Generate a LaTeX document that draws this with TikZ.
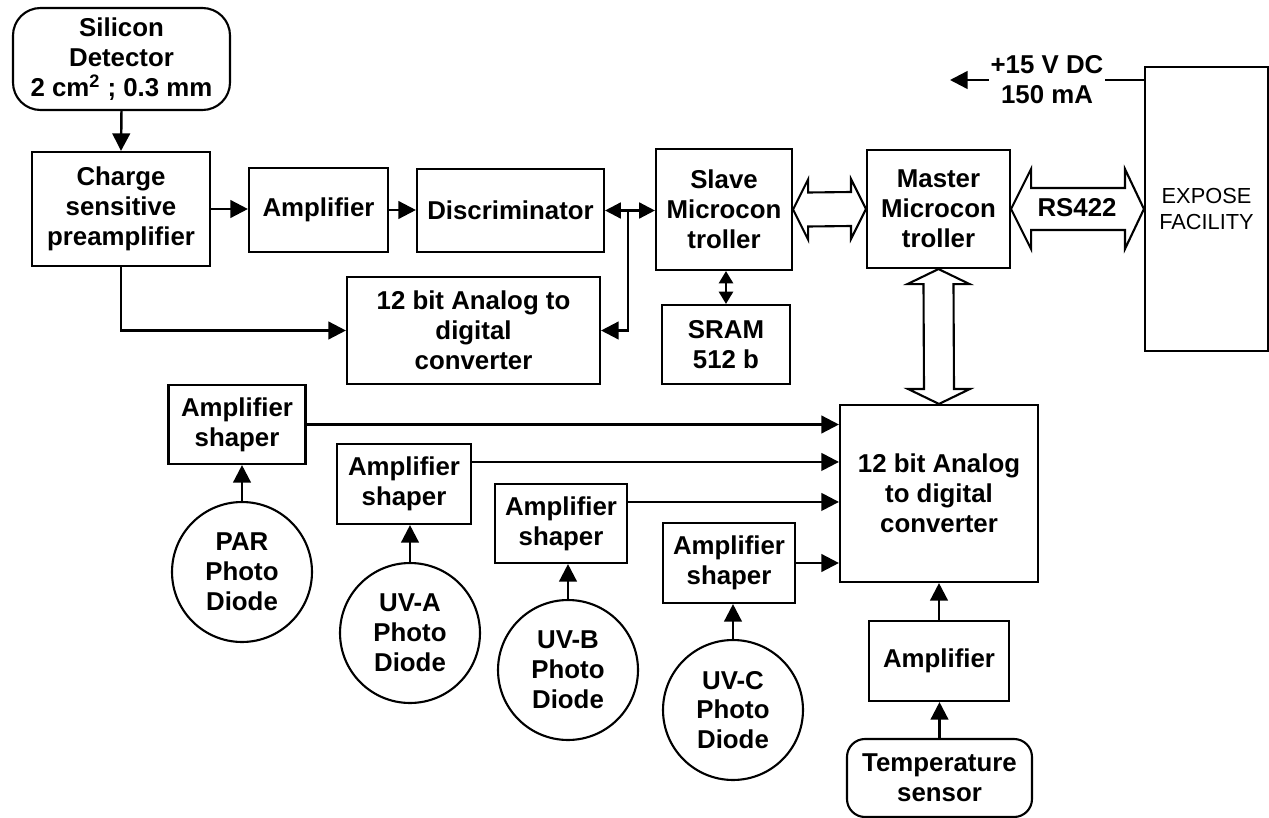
\documentclass[tikz,border=0pt]{standalone}
\usepackage{fontspec}
\setmainfont{Liberation Sans}
\usetikzlibrary{arrows.meta,calc}
\newcommand\dfont{\fontsize{14.7}{17}\selectfont\bfseries}
\newcommand\efont{\fontsize{12.4}{15}\selectfont}
\begin{document}
\begin{tikzpicture}[x=0.02cm,y=-0.02cm,
  sz/.style n args={2}{minimum width=#1*0.02cm, minimum height=#2*0.02cm},
  box/.style={draw, line width=1.2pt, align=center, font=\dfont, inner sep=0pt},
  rbox/.style={box, rounded corners=#1},
  diode/.style={draw, circle, line width=1.2pt, align=center, font=\dfont, inner sep=0pt, minimum size=2.8cm},
  arr/.style={line width=1.4pt, -{Triangle[length=10pt,width=10pt]}},
  darr/.style={line width=1.4pt, {Triangle[length=9pt,width=9pt]}-{Triangle[length=9pt,width=9pt]}},
  sarr/.style={line width=1.4pt, {Triangle[length=7pt,width=8pt]}-{Triangle[length=7pt,width=8pt]}},
  conn/.style={line width=1.4pt},
  hol/.style={line width=1.2pt, line join=miter, fill=white},
  txt/.style={font=\dfont, align=center, inner sep=1pt}
]
\useasboundingbox (0,0) rectangle (1269,818);

% upper chain
\node[rbox=0.55cm, sz={217}{102}] (det) at (121.5,59) {Silicon\\Detector\\2 cm\textsuperscript{2} ; 0.3 mm};
\node[box, sz={178}{114}] (charge) at (121,209) {Charge\\sensitive\\preamplifier};
\node[box, sz={139}{84}] (amp) at (318.5,210) {Amplifier};
\node[box, sz={187}{83}] (disc) at (510.5,210.5) {Discriminator};
\node[box, sz={136}{121}] (slave) at (724,209.5) {Slave\\Microcon\\troller};
\node[box, sz={143}{118}] (master) at (938.5,209) {Master\\Microcon\\troller};
\node[box, sz={123}{284}, font=\efont] (expose) at (1206.5,209) {EXPOSE\\FACILITY};
\node[box, sz={253}{107}] (adc1) at (473.5,330.5) {12 bit Analog to\\digital\\converter};
\node[box, sz={128}{79}] (sram) at (726,344.5) {SRAM\\512 b};

% lower part
\node[box, sz={198}{177}] (adc2) at (939,493.5) {12 bit Analog\\to digital\\converter};
\node[box, sz={137}{79}] (as1) at (237,424.5) {Amplifier\\shaper};
\node[box, sz={134}{80}] (as2) at (404,484) {Amplifier\\shaper};
\node[box, sz={132}{79}] (as3) at (561,523.5) {Amplifier\\shaper};
\node[box, sz={132}{80}] (as4) at (729,563) {Amplifier\\shaper};
\node[diode] (c1) at (242,572) {PAR\\Photo\\Diode};
\node[diode] (c2) at (410,633) {UV-A\\Photo\\Diode};
\node[diode] (c3) at (568,670) {UV-B\\Photo\\Diode};
\node[diode] (c4) at (733,710) {UV-C\\Photo\\Diode};
\node[box, sz={140}{80}] (tamp) at (939,661) {Amplifier};
\node[rbox=0.36cm, sz={185}{78}] (temp) at (939.5,778) {Temperature\\sensor};

% power label
\node[txt] (pw) at (1047,80) {+15 V DC\\150 mA};
\coordinate (pwend) at (950,80);

% connectors
\draw[arr] (det.south) -- (charge.north);
\draw[arr] (charge.east) -- (charge.east -| amp.west);
\draw[arr] (amp.east) -- (amp.east -| disc.west);
\draw[darr] (disc.east) -- (disc.east -| slave.west);
\coordinate (j) at (628,210.5);
\draw[arr] (j) |- (adc1.east);
\draw[arr] (charge.south) |- (adc1.west);
\draw[sarr] (sram.north |- slave.south) -- (sram.north);

\coordinate (o2) at ($(as2.north east)+(0,19)$);
\coordinate (o3) at ($(as3.north east)+(0,19)$);
\draw[arr] (as1.east) -- (as1.east -| adc2.west);
\draw[arr] (o2) -- (o2 -| adc2.west);
\draw[arr] (o3) -- (o3 -| adc2.west);
\draw[arr] (as4.east) -- (as4.east -| adc2.west);
\draw[arr] (c1.north) -- (c1.north |- as1.south);
\draw[arr] (c2.north) -- (c2.north |- as2.south);
\draw[arr] (c3.north) -- (c3.north |- as3.south);
\draw[arr] (c4.north) -- (c4.north |- as4.south);
\draw[arr] (tamp.north) -- (tamp.north |- adc2.south);
\draw[arr] (temp.north) -- (temp.north |- tamp.south);

\draw[conn] (pw.east -| expose.west) -- (pw.east);
\draw[arr] (pw.west) -- (pwend);

% hollow bus arrows
\draw[hol] (slave.east) -- ++(15,-30) -- ++(0,13) -- ($(master.west)+(-15,-17)$) -- ++(0,-13) -- (master.west) -- ++(-15,30) -- ++(0,-13) -- ($(slave.east)+(15,17)$) -- ++(0,13) -- cycle;
\draw[hol] (master.east) -- ++(20,-40) -- ++(0,19) -- ($(expose.west)+(-19,-21)$) -- ++(0,-19) -- (expose.west) -- ++(-19,40) -- ++(0,-19) -- ($(master.east)+(20,21)$) -- ++(0,19) -- cycle;
\node[txt] (rs) at (1077,208) {RS422};
\draw[hol] (master.south) -- ++(31,15) -- ++(-16,0) -- ($(adc2.north)+(15,-15)$) -- ++(16,0) -- (adc2.north) -- ++(-31,-15) -- ++(16,0) -- ($(master.south)+(-15,15)$) -- ++(-16,0) -- cycle;
\end{tikzpicture}
\end{document}
